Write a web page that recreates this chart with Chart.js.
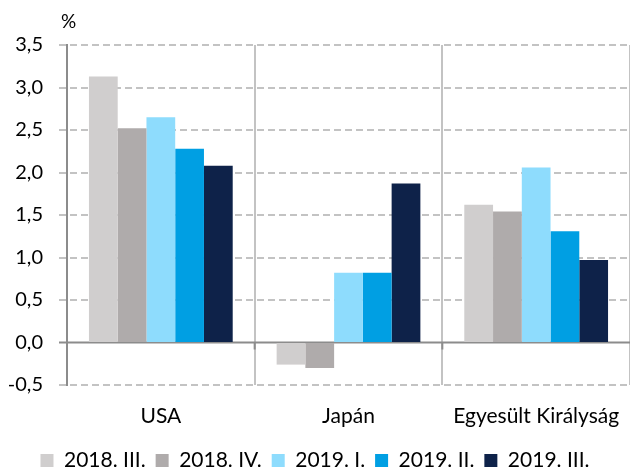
<!DOCTYPE html>
<html>
<head>
<meta charset="utf-8">
<script src="https://cdn.jsdelivr.net/npm/chart.js@4/dist/chart.umd.min.js"></script>
<style>
  html, body { margin: 0; padding: 0; background: #fff; }
  #wrap { width: 630px; height: 467px; }
</style>
</head>
<body>
<div id="wrap"><canvas id="gdpChart"></canvas></div>
<script>
// Categories and quarterly series
const countries = ['USA', 'Japán', 'Egyesült Királyság'];
const q2018_3 = [3.13, -0.26, 1.62];
const q2018_4 = [2.52, -0.30, 1.54];
const q2019_1 = [2.65, 0.82, 2.06];
const q2019_2 = [2.28, 0.82, 1.31];
const q2019_3 = [2.08, 1.87, 0.97];
const seriesLabels = ['2018. III.', '2018. IV.', '2019. I.', '2019. II.', '2019. III.'];
const seriesColors = ['#D0CECE', '#AFABAB', '#8EDCFD', '#009FE3', '#0E2249'];

const font = 'Lato, "Open Sans", sans-serif';

// dashed horizontal grid, zero line, small ticks under it and the "%" unit label
const extras = {
    id: 'extras',
    beforeDatasetsDraw(chart) {
        const ctx = chart.ctx;
        const area = chart.chartArea;
        const ys = chart.scales.y;
        ctx.save();
        ctx.strokeStyle = '#C3C3C3';
        ctx.lineWidth = 2;
        ctx.setLineDash([7, 4]);
        ys.ticks.forEach((t) => {
            if (t.value === 0) return;
            const y = Math.round(ys.getPixelForValue(t.value));
            ctx.beginPath();
            ctx.moveTo(area.left - 8, y);
            ctx.lineTo(area.right, y);
            ctx.stroke();
        });
        ctx.setLineDash([]);
        const y0 = ys.getPixelForValue(0);
        ctx.strokeStyle = '#8C8C8C';
        ctx.beginPath();
        ctx.moveTo(area.left - 8, y0);
        ctx.lineTo(area.right, y0);
        const w = (area.right - area.left) / countries.length;
        for (let i = 1; i < countries.length; i++) {
            const x = area.left + w * i;
            ctx.moveTo(x, y0);
            ctx.lineTo(x, y0 + 7);
        }
        ctx.stroke();
        ctx.restore();
    },
    afterDraw(chart) {
        const ctx = chart.ctx;
        ctx.save();
        ctx.fillStyle = '#000';
        ctx.font = '19px ' + font;
        ctx.textAlign = 'left';
        ctx.textBaseline = 'middle';
        ctx.fillText('%', 61, 22);
        ctx.restore();
    }
};

const dataSets = [q2018_3, q2018_4, q2019_1, q2019_2, q2019_3].map((d, i) => ({
    label: seriesLabels[i],
    data: d,
    backgroundColor: seriesColors[i],
    borderWidth: 0,
    barPercentage: 1,
    categoryPercentage: 0.766
}));

const gdpChart = new Chart(document.getElementById('gdpChart').getContext('2d'), {
    type: 'bar',
    data: { labels: countries, datasets: dataSets },
    plugins: [extras],
    options: {
        responsive: true,
        maintainAspectRatio: false,
        animation: false,
        layout: { padding: { top: 45, right: 0, left: 0, bottom: -14 } },
        scales: {
            x: {
                afterFit: (s) => { s.height = 46; s.paddingRight = 0; s.paddingLeft = 0; },
                grid: {
                    offset: true,
                    drawTicks: false,
                    lineWidth: 2,
                    color: (c) => (c.index === 0 || c.index >= countries.length) ? 'transparent' : '#C3C3C3'
                },
                border: { display: false },
                ticks: { color: '#000', font: { family: font, size: 21 }, padding: 19 }
            },
            y: {
                min: -0.5,
                max: 3.5,
                afterFit: (s) => { s.width = 67; },
                grid: {
                    drawOnChartArea: false,
                    drawTicks: false
                },
                border: { display: true, color: '#8C8C8C', width: 2 },
                ticks: {
                    stepSize: 0.5,
                    color: '#000',
                    font: { family: font, size: 20 },
                    padding: 24,
                    callback: (v) => v.toFixed(1).replace('.', ',')
                }
            }
        },
        plugins: {
            legend: {
                position: 'bottom',
                title: { display: true, text: ' ', font: { size: 5 }, padding: { top: 3, bottom: 0 } },
                labels: {
                    color: '#000',
                    font: { family: font, size: 21 },
                    boxWidth: 13,
                    boxHeight: 13,
                    padding: 10
                }
            },
            tooltip: { enabled: false }
        }
    }
});
</script>
</body>
</html>
